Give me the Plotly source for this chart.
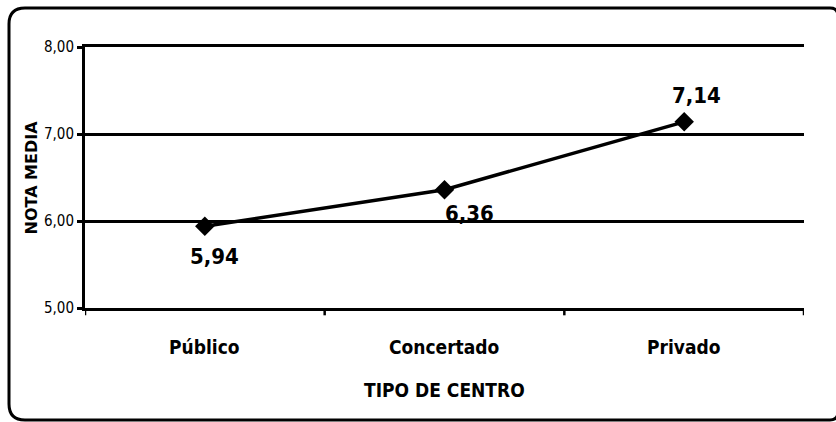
import plotly.graph_objects as go

categories = ["Público", "Concertado", "Privado"]
values = [5.94, 6.36, 7.14]
value_labels = ["5,94", "6,36", "7,14"]
y_ticks = [5, 6, 7, 8]
y_tick_labels = ["5,00", "6,00", "7,00", "8,00"]

W, H = 836, 422
L, R, T, B = 85, 804, 47, 308
FONT = "DejaVu Sans Condensed, Liberation Sans Narrow, Arial Narrow, sans-serif"

fig = go.Figure()
fig.add_trace(go.Scatter(
    x=[0, 1, 2], y=values, mode="lines+markers",
    line=dict(color="black", width=3.5),
    marker=dict(symbol="diamond", size=15, color="black"),
    hoverinfo="skip", showlegend=False, cliponaxis=False,
))

shifts = [(10, -30), (25, -24), (12, 26)]
for i, (v, lab) in enumerate(zip(values, value_labels)):
    fig.add_annotation(x=i, y=v, text=lab, showarrow=False,
                       xshift=shifts[i][0], yshift=shifts[i][1],
                       xanchor="center", yanchor="middle",
                       font=dict(family=FONT, size=22, color="black", weight="bold"))

# rounded border (right side runs off the picture) in paper coordinates
def px(xp):
    return (xp - L) / (R - L)

def py(yp):
    return (B - yp) / (B - T)

x0, y0, y1, r = 9, 8, 420, 16
xe, re = 830, 8
path = (
    f"M {px(xe + re)},{py(y0 + re)} Q {px(xe + re)},{py(y0)} {px(xe)},{py(y0)} "
    f"L {px(x0 + r)},{py(y0)} Q {px(x0)},{py(y0)} {px(x0)},{py(y0 + r)} "
    f"L {px(x0)},{py(y1 - r)} Q {px(x0)},{py(y1)} {px(x0 + r)},{py(y1)} "
    f"L {px(xe)},{py(y1)} Q {px(xe + re)},{py(y1)} {px(xe + re)},{py(y1 - re)}"
)
fig.add_shape(type="path", path=path, xref="paper", yref="paper",
              fillcolor="rgba(0,0,0,0)",
              line=dict(color="black", width=3), layer="above")

for i, c in enumerate(categories):
    fig.add_annotation(x=i, y=0, yref="paper", text=c, showarrow=False,
                       yshift=-39, xanchor="center", yanchor="middle",
                       font=dict(family=FONT, size=19, color="black", weight="bold"))
for xb in [-0.5, 0.5, 1.5, 2.5]:
    fig.add_shape(type="line", x0=xb, x1=xb, xref="x", y0=0, y1=-0.028, yref="paper",
                  line=dict(color="black", width=2.5))

fig.add_annotation(x=0.5, y=0, xref="paper", yref="paper", text="TIPO DE CENTRO",
                   showarrow=False, yshift=-82, xanchor="center", yanchor="middle",
                   font=dict(family=FONT, size=19, color="black", weight="bold"))
fig.add_annotation(x=0, y=0.5, xref="paper", yref="paper", text="NOTA MEDIA",
                   showarrow=False, xshift=-54, textangle=-90,
                   xanchor="center", yanchor="middle",
                   font=dict(family="DejaVu Sans, sans-serif", size=16,
                             color="black", weight="bold"))

fig.update_layout(
    width=W, height=H,
    margin=dict(l=L, r=W - R, t=T, b=H - B),
    paper_bgcolor="white", plot_bgcolor="white",
    xaxis=dict(range=[-0.5, 2.5], showticklabels=False, showgrid=False, zeroline=False,
               showline=True, mirror=True, linecolor="black", linewidth=3, ticks=""),
    yaxis=dict(range=[5, 8], tickvals=y_ticks, ticktext=y_tick_labels,
               showgrid=True, gridcolor="black", gridwidth=3, zeroline=False,
               showline=True, linecolor="black", linewidth=3,
               ticks="outside", ticklen=5, tickwidth=2.5, tickcolor="black",
               tickfont=dict(family=FONT, size=15, color="black")),
)

fig.write_html("out.html", config={"displayModeBar": False},
               post_script="document.body.style.margin='0';document.body.style.overflow='hidden';")
